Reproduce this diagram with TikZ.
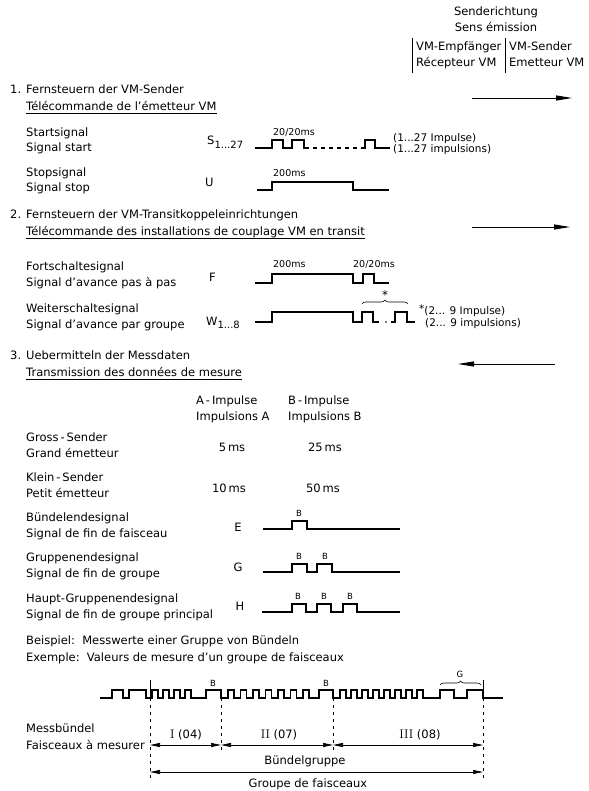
\documentclass[tikz,border=0pt]{standalone}
\usepackage{fontspec}
\setsansfont{DejaVu Sans}
\renewcommand{\familydefault}{\sfdefault}
\usetikzlibrary{arrows.meta,decorations.pathreplacing}
\newcommand{\romnum}[1]{{\fontsize{12.5}{14}\rmfamily #1}}
\begin{document}
\begin{tikzpicture}[x=1pt,y=-1pt,
  lbl/.style={anchor=base west,inner sep=0pt,font=\fontsize{11.5}{14}\selectfont},
  clbl/.style={anchor=base,inner sep=0pt,font=\fontsize{11.5}{14}\selectfont},
  note/.style={anchor=base west,inner sep=0pt,font=\fontsize{10.5}{12}\selectfont},
  tiny/.style={anchor=base west,inner sep=0pt,font=\fontsize{9.5}{11}\selectfont},
  blbl/.style={anchor=base,inner sep=0pt,font=\fontsize{8.5}{10}\selectfont},
  wave/.style={line width=1.05pt},
  dirarrow/.style={line width=0.9pt,-{Triangle[length=16pt,width=5pt]}},
  dimarrow/.style={line width=0.7pt,{Triangle[length=10pt,width=4pt]}-{Triangle[length=10pt,width=4pt]}},
  ext/.style={line width=0.5pt,dash pattern=on 3pt off 4pt},
  ubar/.style={line width=0.6pt},
  brc/.style={line width=0.6pt,decorate,decoration={brace,amplitude=4pt}},
  bar/.style={line width=0.7pt},
]
\useasboundingbox (0,0) rectangle (588,791);
% ---------------- header
\node[clbl] (hd1) at (496,16) {Senderichtung};
\node[clbl] (hd2) at (496,32) {Sens émission};
\coordinate (b1t) at (412,38); \coordinate (b1b) at (412,73);
\coordinate (b2t) at (505,38); \coordinate (b2b) at (505,73);
\draw[bar] (b1t) -- (b1b);
\draw[bar] (b2t) -- (b2b);
\node[lbl] (rx1) at (416,51) {VM-Empfänger};
\node[lbl] (rx2) at (416,67) {Récepteur VM};
\node[lbl] (tx1) at (509,51) {VM-Sender};
\node[lbl] (tx2) at (509,67) {Emetteur VM};
% ---------------- section 1
\node[lbl] (n1) at (10,94) {1.};
\node[lbl] (s1de) at (26,94) {Fernsteuern der VM-Sender};
\node[lbl] (s1fr) at (26,111) {Télécommande de l’émetteur VM};
\draw[ubar] ([yshift=-2.5pt]s1fr.base west) -- ([yshift=-2.5pt]s1fr.base east);
\coordinate (a1s) at (472,98); \coordinate (a1e) at (572,98);
\draw[dirarrow] (a1s) -- (a1e);
% start signal
\node[lbl] (st1) at (26,137) {Startsignal};
\node[lbl] (st2) at (26,152) {Signal start};
\node[lbl] (sS) at (207,145) {S\raisebox{-4pt}{\fontsize{10}{12}\selectfont 1...27}};
\node[tiny] (s20) at (273,136) {20/20ms};
\draw[wave] (255,148) -| (272,140) -| (283,148) -| (292,140) -| (304,148) -- (309,148);
\draw[wave,dash pattern=on 4pt off 4pt] (313,148) -- (361,148);
\draw[wave] (361,148) -| (365,140) -| (375,148) -- (390,148);
\node[note] (simp1) at (393,141.5) {(1...27 Impulse)};
\node[note] (simp2) at (393,152.5) {(1...27 impulsions)};
% stop signal
\node[lbl] (sp1) at (26,177) {Stopsignal};
\node[lbl] (sp2) at (26,192) {Signal stop};
\node[lbl] (sU) at (205,187) {U};
\node[tiny] (u200) at (273,177) {200ms};
\draw[wave] (257,190) -| (272,182) -| (353,190) -- (389,190);
% ---------------- section 2
\node[lbl] (n2) at (10,219) {2.};
\node[lbl] (s2de) at (26,219) {Fernsteuern der VM-Transitkoppeleinrichtungen};
\node[lbl] (s2fr) at (26,236) {Télécommande des installations de couplage VM en transit};
\draw[ubar] ([yshift=-2.5pt]s2fr.base west) -- ([yshift=-2.5pt]s2fr.base east);
\coordinate (a2s) at (472,227); \coordinate (a2e) at (570,227);
\draw[dirarrow] (a2s) -- (a2e);
% F
\node[lbl] (f1) at (26,270) {Fortschaltesignal};
\node[lbl] (f2) at (26,286) {Signal d’avance pas à pas};
\node[lbl] (fF) at (209,281) {F};
\node[tiny] (f200) at (273,268) {200ms};
\node[tiny] (f20) at (353,268) {20/20ms};
\draw[wave] (255,283) -| (272,274) -| (353,283) -| (363,274) -| (374,283) -- (389,283);
% W
\node[lbl] (w1) at (26,312) {Weiterschaltesignal};
\node[lbl] (w2) at (26,328) {Signal d’avance par groupe};
\node[lbl] (wW) at (206,325) {W\raisebox{-3pt}{\fontsize{10}{12}\selectfont 1...8}};
\draw[wave] (255,322) -| (272,312) -| (353,322) -| (362,312) -| (373,322) -- (379,322);
\fill (386,322) circle (0.8pt);
\draw[wave] (391,322) -| (395,312) -| (407,322) -- (415,322);
\draw[brc] (362,304) -- (408,304);
\node[anchor=center,inner sep=0pt,font=\fontsize{12}{12}\selectfont] (wstar) at (385,295) {*};
\node[note] (wimp1) at (419,314) {\raisebox{2pt}{*}(2... 9 Impulse)};
\node[note] (wimp2) at (425,326) {(2... 9 impulsions)};
% ---------------- section 3
\node[lbl] (n3) at (10,359) {3.};
\node[lbl] (s3de) at (26,359) {Uebermitteln der Messdaten};
\node[lbl] (s3fr) at (26,376) {Transmission des données de mesure};
\draw[ubar] ([yshift=-3pt]s3fr.base west) -- ([yshift=-3pt]s3fr.base east);
\coordinate (a3s) at (555,364); \coordinate (a3e) at (458,364);
\draw[dirarrow] (a3s) -- (a3e);
% table
\node[lbl] (ha1) at (196,404) {A\,-\,Impulse};
\node[lbl] (ha2) at (196,420) {Impulsions A};
\node[lbl] (hb1) at (288,404) {B\,-\,Impulse};
\node[lbl] (hb2) at (288,420) {Impulsions B};
\node[lbl] (gs1) at (26,441) {Gross\,-\,Sender};
\node[lbl] (gs2) at (26,457) {Grand émetteur};
\node[clbl] (gsa) at (232,451) {5\,ms};
\node[clbl] (gsb) at (325,451) {25\,ms};
\node[lbl] (ks1) at (26,481) {Klein\,-\,Sender};
\node[lbl] (ks2) at (26,497) {Petit émetteur};
\node[clbl] (ksa) at (229,492) {10\,ms};
\node[clbl] (ksb) at (323,492) {50\,ms};
% E
\node[lbl] (e1) at (26,521) {Bündelendesignal};
\node[lbl] (e2) at (26,537) {Signal de fin de faisceau};
\node[clbl] (eE) at (238,531) {E};
\draw[wave] (263,529) -| (292,521) -| (307,529) -- (400,529);
\node[blbl] (eB) at (299,516) {B};
% G
\node[lbl] (g1) at (26,561) {Gruppenendesignal};
\node[lbl] (g2) at (26,577) {Signal de fin de groupe};
\node[clbl] (gG) at (238,571) {G};
\draw[wave] (263,572) -| (292,564) -| (307,572) -| (317,564) -| (332,572) -- (400,572);
\node[blbl] (gB1) at (299,559) {B};
\node[blbl] (gB2) at (325,559) {B};
% H
\node[lbl] (h1) at (26,602) {Haupt-Gruppenendesignal};
\node[lbl] (h2) at (26,618) {Signal de fin de groupe principal};
\node[clbl] (hH) at (240,610) {H};
\draw[wave] (262,612) -| (292,604) -| (306,612) -| (317,604) -| (331,612) -| (343,604) -| (357,612) -- (400,612);
\node[blbl] (hB1) at (298,599) {B};
\node[blbl] (hB2) at (324,599) {B};
\node[blbl] (hB3) at (350,599) {B};
% example
\node[lbl] (bsp) at (26,644) {Beispiel:\ \ Messwerte einer Gruppe von Bündeln};
\node[lbl] (exm) at (26,661) {Exemple:\ \ Valeurs de mesure d’un groupe de faisceaux};
% ---------------- bottom waveform
\draw[wave] (100,698) -| (112,690) -| (123,698) -| (129,690) -| (146,698)
  -| (152,690) -| (158,698) -| (163,690) -| (169,698) -| (174,690) -| (180,698) -| (185,690) -| (191,698)
  -| (206,690) -| (221,698)
  -| (228,690) -| (234,698) -| (240.5,690) -| (246.5,698) -| (253,690) -| (259,698) -| (265.5,690) -| (271.5,698)
  -| (278,690) -| (284,698) -| (290.5,690) -| (296.5,698) -| (303,690) -| (309,698)
  -| (319,690) -| (333,698)
  -| (340,690) -| (346,698) -| (351,690) -| (357,698) -| (362,690) -| (368,698) -| (373,690) -| (379,698)
  -| (384,690) -| (390,698) -| (395,690) -| (401,698) -| (406,690) -| (412,698) -| (417,690) -| (423,698)
  -| (440,690) -| (454,698) -| (467,690) -| (483,698) -- (503,698);
\node[blbl] (wB1) at (213,686) {B};
\node[blbl] (wB2) at (326,686) {B};
\draw[brc] (440,685) -- (481,685);
\node[blbl] (wG) at (460,677) {G};
% markers
\coordinate (m0t) at (150,680); \coordinate (m0) at (150,698); \coordinate (m0b) at (150,779);
\coordinate (m1) at (221,698); \coordinate (m1b) at (221,752);
\coordinate (m2) at (333,698); \coordinate (m2b) at (333,752);
\coordinate (m3t) at (483,680); \coordinate (m3) at (483,698); \coordinate (m3b) at (483,779);
\draw[bar] (m0t) -- (m0);
\draw[bar] (m3t) -- (m3);
\draw[ext] (m0) -- (m0b);
\draw[ext] (m1) -- (m1b);
\draw[ext] (m2) -- (m2b);
\draw[ext] (m3) -- (m3b);
% dimensions
\node[lbl] (mb1) at (26,732) {Messbündel};
\node[lbl] (mb2) at (26,749) {Faisceaux à mesurer};
\coordinate (d0) at (150,745); \coordinate (d1) at (221,745);
\coordinate (d2) at (333,745); \coordinate (d3) at (483,745);
\draw[dimarrow] (d0) -- (d1);
\draw[dimarrow] (d1) -- (d2);
\draw[dimarrow] (d2) -- (d3);
\node[clbl] (l1) at (186,738) {\romnum{I} (04)};
\node[clbl] (l2) at (279,738) {\romnum{II} (07)};
\node[clbl] (l3) at (420,738) {\romnum{III} (08)};
\node[clbl] (bg1) at (305,764) {Bündelgruppe};
\coordinate (g0) at (150,772); \coordinate (g3) at (483,772);
\draw[dimarrow] (g0) -- (g3);
\node[clbl] (bg2) at (308,787.5) {Groupe de faisceaux};
\end{tikzpicture}
\end{document}
